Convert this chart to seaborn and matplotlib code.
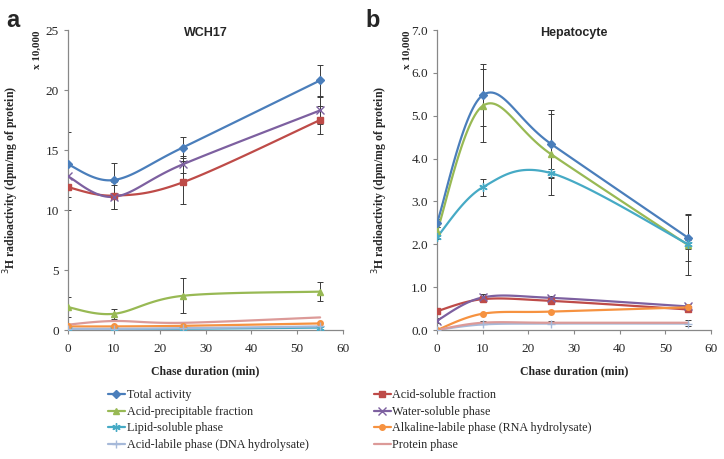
import numpy as np
import pandas as pd
import matplotlib
matplotlib.use("Agg")
import matplotlib.pyplot as plt
from matplotlib.lines import Line2D
import seaborn as sns

# chase duration (min)
chase = [0, 10, 25, 55]

series_names = [
    "Total activity", "Acid-soluble fraction",
    "Acid-precipitable fraction", "Water-soluble phase",
    "Lipid-soluble phase", "Alkaline-labile phase (RNA hydrolysate)",
    "Acid-labile phase (DNA hydrolysate)", "Protein phase",
]

# panel a: WCH17  (x 10,000 dpm/mg protein)
wch_total = [13.8, 12.5, 15.2, 20.8]
wch_acid_sol = [11.9, 11.2, 12.3, 17.5]
wch_acid_prec = [1.9, 1.35, 2.85, 3.2]
wch_water = [12.8, 11.1, 13.8, 18.3]
wch_lipid = [0.05, 0.05, 0.1, 0.2]
wch_alkaline = [0.3, 0.3, 0.35, 0.55]
wch_dna = [0.1, 0.1, 0.15, 0.3]
wch_protein = [0.45, 0.75, 0.6, 1.05]

wch_total_err = [2.7, 1.4, 0.9, 1.3]
wch_acid_sol_err = [1.9, 1.1, 1.8, 1.2]
wch_acid_prec_err = [0.85, 0.4, 1.45, 0.8]
wch_water_err = [1.0, 1.0, 0.7, 1.1]

# panel b: Hepatocyte
hep_total = [2.5, 5.48, 4.34, 2.15]
hep_acid_sol = [0.44, 0.72, 0.68, 0.48]
hep_acid_prec = [2.3, 5.23, 4.1, 1.98]
hep_water = [0.22, 0.76, 0.75, 0.55]
hep_lipid = [2.17, 3.33, 3.66, 2.0]
hep_alkaline = [0.0, 0.38, 0.43, 0.53]
hep_dna = [0.0, 0.13, 0.15, 0.15]
hep_protein = [0.0, 0.17, 0.17, 0.17]

hep_total_err = [0.1, 0.72, 0.8, 0.55]
hep_acid_prec_err = [0.1, 0.85, 0.95, 0.7]
hep_lipid_err = [0.05, 0.2, 0.1, 0.1]
hep_acid_sol_err = [0.03, 0.05, 0.03, 0.03]
hep_water_err = [0.05, 0.08, 0.05, 0.05]
hep_protein_err = [0.0, 0.03, 0.03, 0.07]

colors = {
    "Total activity": "#4A7EBB",
    "Acid-soluble fraction": "#BE4B48",
    "Acid-precipitable fraction": "#98B954",
    "Water-soluble phase": "#7D60A0",
    "Lipid-soluble phase": "#46AAC5",
    "Alkaline-labile phase (RNA hydrolysate)": "#F69240",
    "Acid-labile phase (DNA hydrolysate)": "#A6B9D9",
    "Protein phase": "#DC9A98",
}
asterisk = (6, 2, 0)
markers = {
    "Total activity": "D",
    "Acid-soluble fraction": "s",
    "Acid-precipitable fraction": "^",
    "Water-soluble phase": "x",
    "Lipid-soluble phase": asterisk,
    "Alkaline-labile phase (RNA hydrolysate)": "o",
    "Acid-labile phase (DNA hydrolysate)": "+",
    "Protein phase": None,
}


def msize(m):
    return 6 if m in ("x", "+", asterisk) else 4


def smooth(xs, ys, n=30):
    # Excel-style smoothed line (Catmull-Rom through the points)
    p = np.column_stack([xs, ys]).astype(float)
    p = np.vstack([p[0], p, p[-1]])
    out = []
    t = np.linspace(0, 1, n)[:, None]
    for i in range(1, len(p) - 2):
        p0, p1, p2, p3 = p[i - 1], p[i], p[i + 1], p[i + 2]
        c1 = p1 + (p2 - p0) / 6
        c2 = p2 - (p3 - p1) / 6
        seg = ((1 - t) ** 3) * p1 + 3 * ((1 - t) ** 2) * t * c1 + 3 * (1 - t) * t ** 2 * c2 + t ** 3 * p2
        out.append(seg)
    out = np.vstack(out)
    return out[:, 0], out[:, 1]


def draw(ax, data, errs):
    for name, ys in data.items():
        c = colors[name]
        if name in errs:
            ax.errorbar(chase, ys, yerr=errs[name], fmt="none", ecolor="#3a3a3a",
                        elinewidth=0.7, capsize=2, capthick=0.7, zorder=2)
        sx, sy = smooth(chase, ys)
        df = pd.DataFrame({"x": sx, "y": sy})
        sns.lineplot(data=df, x="x", y="y", ax=ax, color=c, lw=1.6, sort=False,
                     estimator=None, zorder=3)
        m = markers[name]
        if m is not None:
            ax.plot(chase, ys, linestyle="none", marker=m, color=c,
                    markersize=msize(m), mew=1.0, zorder=4)


sns.set_style("white")
plt.rcParams["font.family"] = ["Liberation Serif", "DejaVu Serif"]

fig = plt.figure(figsize=(7.24, 4.59), dpi=100)
ax_a = fig.add_axes([0.0939, 0.281, 0.3799, 0.6536])
ax_b = fig.add_axes([0.6036, 0.281, 0.3785, 0.6536])

draw(ax_a, dict(zip(series_names, [wch_total, wch_acid_sol, wch_acid_prec, wch_water,
                                   wch_lipid, wch_alkaline, wch_dna, wch_protein])),
     {"Total activity": wch_total_err, "Acid-soluble fraction": wch_acid_sol_err,
      "Acid-precipitable fraction": wch_acid_prec_err, "Water-soluble phase": wch_water_err})
draw(ax_b, dict(zip(series_names, [hep_total, hep_acid_sol, hep_acid_prec, hep_water,
                                   hep_lipid, hep_alkaline, hep_dna, hep_protein])),
     {"Total activity": hep_total_err, "Acid-soluble fraction": hep_acid_sol_err,
      "Acid-precipitable fraction": hep_acid_prec_err, "Water-soluble phase": hep_water_err,
      "Lipid-soluble phase": hep_lipid_err, "Protein phase": hep_protein_err})

ax_a.set_ylim(0, 25)
ax_a.set_yticks([0, 5, 10, 15, 20, 25])
ax_b.set_ylim(0, 7)
ax_b.set_yticks(np.arange(0, 7.1, 1.0))
ax_b.set_yticklabels([f"{v:.1f}" for v in np.arange(0, 7.1, 1.0)])

for ax, title in [(ax_a, "WCH17"), (ax_b, "Hepatocyte")]:
    ax.set_xlim(0, 60)
    ax.set_xticks(range(0, 61, 10))
    for s in ["top", "right"]:
        ax.spines[s].set_visible(False)
    for s in ["left", "bottom"]:
        ax.spines[s].set_color("#888888")
        ax.spines[s].set_linewidth(0.9)
    ax.tick_params(axis="both", labelsize=9.5, length=3, color="#888888",
                   direction="out", left=True, bottom=True)
    ax.tick_params(axis="x", pad=6)
    ax.set_xlabel("Chase duration (min)", fontsize=8.5, fontweight="bold", labelpad=8)
    ax.set_ylabel("$^{3}$H radioactivity (dpm/mg of protein)", fontsize=8.5,
                  fontweight="bold")
    ax.yaxis.set_label_coords(-0.172, 0.5)
    ax.set_title(title, fontsize=9, fontweight="bold", family="Liberation Sans", pad=-4)
    ax.text(-0.11, 1.0, "x 10,000", transform=ax.transAxes, rotation=90,
            fontsize=8, fontweight="bold", ha="center", va="top")

fig.text(0.008, 0.955, "a", fontsize=17, fontweight="bold", family="Liberation Sans", va="center")
fig.text(0.505, 0.955, "b", fontsize=17, fontweight="bold", family="Liberation Sans", va="center")


def handle(name):
    m = markers[name]
    return Line2D([0], [0], color=colors[name], lw=1.6, marker=m if m else None,
                  markersize=msize(m), mew=1.0)


left_names = ["Total activity", "Acid-precipitable fraction", "Lipid-soluble phase",
              "Acid-labile phase (DNA hydrolysate)"]
right_names = ["Acid-soluble fraction", "Water-soluble phase",
               "Alkaline-labile phase (RNA hydrolysate)", "Protein phase"]
for names, x0 in [(left_names, 0.149), (right_names, 0.516)]:
    fig.legend([handle(n) for n in names], names, loc="upper left",
               bbox_to_anchor=(x0, 0.152), frameon=False, fontsize=8.7,
               handlelength=1.4, handletextpad=0.15, labelspacing=0.38,
               borderaxespad=0, borderpad=0)

fig.savefig("out.png", dpi=100)
